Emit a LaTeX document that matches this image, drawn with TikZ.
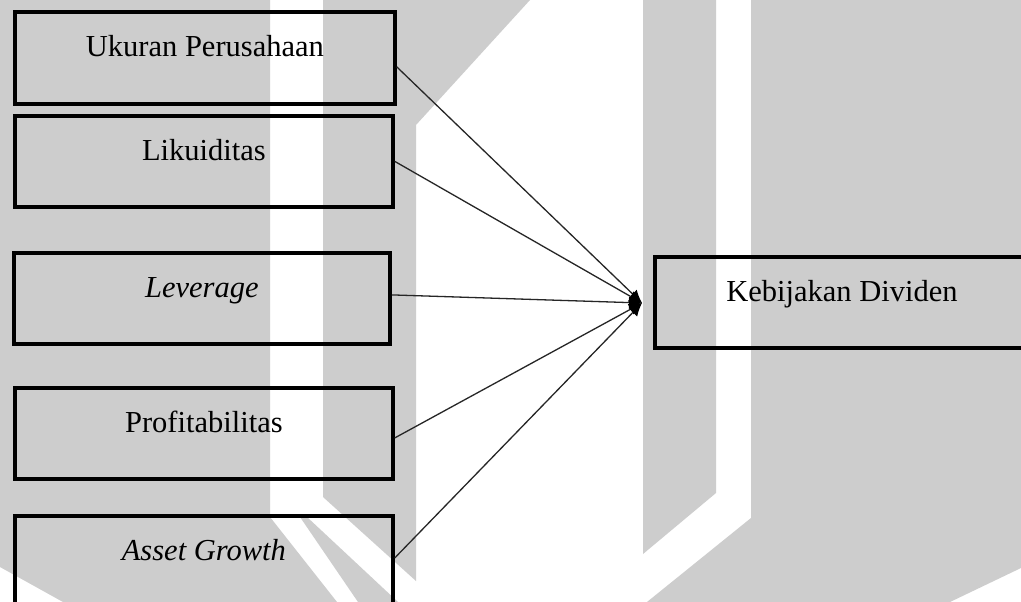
\documentclass[tikz,border=0pt]{standalone}
\usepackage{fontspec}
\setmainfont{Liberation Serif}
\usetikzlibrary{arrows.meta}
\definecolor{wm}{RGB}{205,205,205}
\begin{document}
\begin{tikzpicture}[x=1pt,y=-1pt,
  varbox/.style={draw=black, line width=3.8pt, inner sep=0pt, anchor=north west,
    align=center, text height=45pt, text depth=46pt,
    font=\fontsize{30.5}{36}\selectfont},
  link/.style={draw=black!85, line width=1.3pt, -{Latex[length=13pt,width=12pt,color=black]}},
  wmark/.style={fill=wm, draw=none}]
\useasboundingbox (0,0) rectangle (1021,602);
\fill[white] (0,0) rectangle (1021,602);
% watermark
\fill[wmark] (0,0)--(270,0)--(270,517)--(337,602)--(63,602)--(0,567)--cycle;
\fill[wmark] (300,517)--(307,517)--(398,602)--(358,602)--cycle;
\fill[wmark] (323,0)--(530,0)--(416,125)--(416,581)--(323,497)--cycle;
\fill[wmark] (643,0)--(716,0)--(716,493)--(643,554)--cycle;
\fill[wmark] (751,0)--(1021,0)--(1021,568)--(950,602)--(647,602)--(751,518)--cycle;
% boxes
\node[varbox, minimum width=380pt, text depth=47pt] (u) at (13,10) {Ukuran Perusahaan};
\node[varbox, minimum width=378pt] (l) at (13,114) {Likuiditas};
\node[varbox, minimum width=376pt] (v) at (12,251) {\textit{Leverage}};
\node[varbox, minimum width=378pt] (p) at (13,386) {Profitabilitas};
\node[varbox, minimum width=378pt, text depth=50pt] (a) at (13,514) {\textit{Asset Growth}};
\node[varbox, minimum width=374pt] (k) at (653,255) {Kebijakan Dividen};
% connectors
\coordinate (t) at (642,303);
\draw[link] ([yshift=-9pt]u.east) -- (t);
\draw[link] (l.east) -- (t);
\draw[link] ([yshift=3.5pt]v.east) -- (t);
\draw[link] ([yshift=-4.5pt]p.east) -- (t);
\draw[link] ([yshift=5.5pt]a.east) -- (t);
\end{tikzpicture}
\end{document}
